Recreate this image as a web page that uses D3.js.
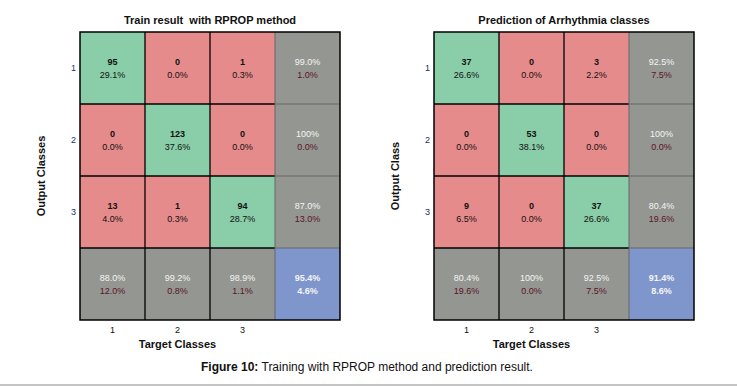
<!DOCTYPE html>
<html>
<head>
<meta charset="utf-8">
<script src="https://cdn.jsdelivr.net/npm/d3@7"></script>
<style>
  body { margin: 0; background: #fff; }
  svg { font-family: "Liberation Sans", Arial, sans-serif; }
</style>
</head>
<body>
<svg id="fig" width="737" height="386"></svg>
<script>
// class labels (ticks)
var classes = ["1", "2", "3"];

// left panel: training confusion matrix (rows = output, cols = target)
var trainCounts = [[95, 0, 1], [0, 123, 0], [13, 1, 94]];
var trainPct = [["29.1%", "0.0%", "0.3%"], ["0.0%", "37.6%", "0.0%"], ["4.0%", "0.3%", "28.7%"]];
var trainRowSum = [["99.0%", "1.0%"], ["100%", "0.0%"], ["87.0%", "13.0%"]];
var trainColSum = [["88.0%", "12.0%"], ["99.2%", "0.8%"], ["98.9%", "1.1%"]];
var trainTotal = ["95.4%", "4.6%"];

// right panel: prediction confusion matrix
var predCounts = [[37, 0, 3], [0, 53, 0], [9, 0, 37]];
var predPct = [["26.6%", "0.0%", "2.2%"], ["0.0%", "38.1%", "0.0%"], ["6.5%", "0.0%", "26.6%"]];
var predRowSum = [["92.5%", "7.5%"], ["100%", "0.0%"], ["80.4%", "19.6%"]];
var predColSum = [["80.4%", "19.6%"], ["100%", "0.0%"], ["92.5%", "7.5%"]];
var predTotal = ["91.4%", "8.6%"];

var GREEN = "#8acda9", RED = "#e68b8b", GRAY = "#949692", BLUE = "#7f96cd";

var svg = d3.select("#fig");

function drawMatrix(opt) {
  var keys = classes.concat(["all"]);
  var x = d3.scaleBand().domain(keys).range([opt.x0, opt.x1]);
  var y = d3.scaleBand().domain(keys).range([32, 320]);
  var g = svg.append("g");

  // build cell list
  var cells = [];
  classes.forEach(function(r, i) {
    classes.forEach(function(c, j) {
      cells.push({r: r, c: c, fill: i === j ? GREEN : RED,
        t1: String(opt.counts[i][j]), t2: opt.pct[i][j], kind: "main"});
    });
    cells.push({r: r, c: "all", fill: GRAY, t1: opt.rowSum[i][0], t2: opt.rowSum[i][1], kind: "sum"});
  });
  classes.forEach(function(c, j) {
    cells.push({r: "all", c: c, fill: GRAY, t1: opt.colSum[j][0], t2: opt.colSum[j][1], kind: "sum"});
  });
  cells.push({r: "all", c: "all", fill: BLUE, t1: opt.total[0], t2: opt.total[1], kind: "total"});

  g.selectAll("rect.cell").data(cells).enter().append("rect")
    .attr("class", "cell")
    .attr("x", function(d) { return x(d.c); })
    .attr("y", function(d) { return y(d.r); })
    .attr("width", x.bandwidth())
    .attr("height", y.bandwidth())
    .attr("fill", function(d) { return d.fill; });

  // grid lines: black inside the 3x3 part, gray around the summary column
  var xEdge = x("all"), yEdge = y("all");
  [x("2"), x("3")].forEach(function(px) {
    g.append("line").attr("x1", px).attr("x2", px).attr("y1", 32).attr("y2", 320)
      .attr("stroke", "#000").attr("stroke-width", 1.3);
  });
  [y("2"), y("3"), yEdge].forEach(function(py) {
    g.append("line").attr("x1", opt.x0).attr("x2", xEdge).attr("y1", py).attr("y2", py)
      .attr("stroke", "#000").attr("stroke-width", 1.3);
  });
  [y("2"), y("3"), yEdge].forEach(function(py) {
    g.append("line").attr("x1", xEdge).attr("x2", opt.x1).attr("y1", py).attr("y2", py)
      .attr("stroke", "#666").attr("stroke-width", 1);
  });
  g.append("line").attr("x1", xEdge).attr("x2", xEdge).attr("y1", 32).attr("y2", 320)
    .attr("stroke", "#666").attr("stroke-width", 1);
  g.append("rect").attr("x", opt.x0).attr("y", 32)
    .attr("width", opt.x1 - opt.x0).attr("height", 288)
    .attr("fill", "none").attr("stroke", "#000").attr("stroke-width", 1.5);

  // cell texts
  var lab = g.selectAll("g.lab").data(cells).enter().append("g")
    .attr("transform", function(d) {
      return "translate(" + (x(d.c) + x.bandwidth() / 2) + "," + (y(d.r) + y.bandwidth() / 2) + ")";
    })
    .attr("text-anchor", "middle").style("font-size", "9px");
  lab.append("text").attr("y", -3)
    .attr("fill", function(d) { return d.kind === "main" ? "#111" : "#f4f4f4"; })
    .attr("font-weight", function(d) { return d.kind === "sum" ? "normal" : "bold"; })
    .text(function(d) { return d.t1; });
  lab.append("text").attr("y", 10)
    .attr("fill", function(d) { return d.kind === "main" ? "#111" : d.kind === "sum" ? "#5a1426" : "#f4f4f4"; })
    .attr("font-weight", function(d) { return d.kind === "total" ? "bold" : "normal"; })
    .text(function(d) { return d.t2; });

  // tick labels
  g.selectAll("text.ytick").data(classes).enter().append("text")
    .attr("x", opt.x0 - 4).attr("y", function(d) { return y(d) + y.bandwidth() / 2 + 3; })
    .attr("text-anchor", "end").style("font-size", "9px").attr("fill", "#1a2f6a")
    .text(function(d) { return d; });
  g.selectAll("text.xtick").data(classes).enter().append("text")
    .attr("x", function(d) { return x(d) + x.bandwidth() / 2; }).attr("y", 333)
    .attr("text-anchor", "middle").style("font-size", "9px").attr("fill", "#111")
    .text(function(d) { return d; });

  var cx = (opt.x0 + opt.x1) / 2;
  g.append("text").attr("x", cx).attr("y", 24).attr("text-anchor", "middle")
    .style("font-size", "11px").style("white-space", "pre").attr("font-weight", "bold").attr("fill", "#111")
    .text(opt.title);
  g.append("text").attr("x", x("2") + x.bandwidth() / 2).attr("y", 348).attr("text-anchor", "middle")
    .style("font-size", "11px").attr("font-weight", "bold").attr("fill", "#111")
    .text("Target Classes");
  g.append("text").attr("transform", "translate(" + (opt.x0 - 35) + ",176) rotate(-90)")
    .attr("text-anchor", "middle").style("font-size", "11px").attr("font-weight", "bold")
    .attr("fill", "#111").text(opt.ylabel);
}

drawMatrix({x0: 80, x1: 340, title: "Train result  with RPROP method", ylabel: "Output Classes",
  counts: trainCounts, pct: trainPct, rowSum: trainRowSum, colSum: trainColSum, total: trainTotal});
drawMatrix({x0: 434, x1: 694, title: "Prediction of Arrhythmia classes", ylabel: "Output Class",
  counts: predCounts, pct: predPct, rowSum: predRowSum, colSum: predColSum, total: predTotal});

// caption
var cap = svg.append("text").attr("x", 367).attr("y", 371).attr("text-anchor", "middle")
  .style("font-size", "12px").attr("fill", "#111");
cap.append("tspan").attr("font-weight", "bold").text("Figure 10:");
cap.append("tspan").text(" Training with RPROP method and prediction result.");

svg.append("line").attr("x1", 0).attr("x2", 737).attr("y1", 385).attr("y2", 385)
  .attr("stroke", "#c4c4c4").attr("stroke-width", 2);
</script>
</body>
</html>
